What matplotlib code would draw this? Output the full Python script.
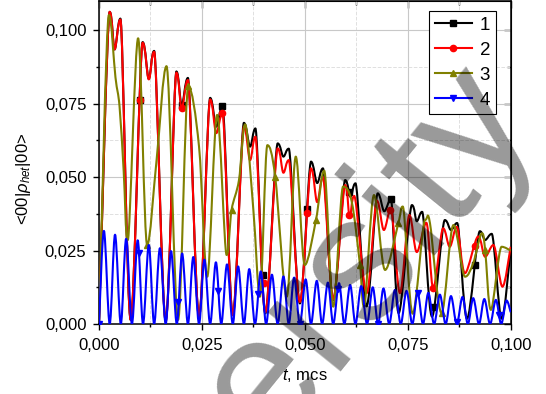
import numpy as np
import matplotlib
matplotlib.use("Agg")
import matplotlib.pyplot as plt
from matplotlib.lines import Line2D
from matplotlib.path import Path
from matplotlib.patches import PathPatch
from matplotlib.ticker import MultipleLocator, FuncFormatter

plt.rcParams['font.family'] = ['Liberation Sans', 'DejaVu Sans']
plt.rcParams['mathtext.fontset'] = 'custom'
plt.rcParams['mathtext.rm'] = 'Liberation Sans'
plt.rcParams['mathtext.it'] = 'Liberation Sans:italic'

# curve 1 (black)
t_black = [0.0, 0.0026, 0.0038, 0.0052, 0.0077, 0.0106, 0.0121, 0.0134, 0.0162, 0.0188,
           0.0201, 0.0216, 0.0243, 0.0270, 0.0285, 0.0300, 0.0325, 0.0352, 0.0367, 0.0380,
           0.0404, 0.0434, 0.0448, 0.0461, 0.0488, 0.0515, 0.0530, 0.0544, 0.0569, 0.0598,
           0.0611, 0.0623, 0.0650, 0.0677, 0.0693, 0.0709, 0.0728, 0.0760, 0.0772, 0.0785,
           0.0809, 0.0840, 0.0855, 0.0870, 0.0894, 0.0925, 0.0938, 0.0954, 0.0978, 0.1000]
y_black = [0.0, 0.1063, 0.0935, 0.1040, 0.0014, 0.0960, 0.0835, 0.0930, 0.0010, 0.0860,
           0.0745, 0.0838, 0.0025, 0.0770, 0.0672, 0.0742, 0.0030, 0.0685, 0.0604, 0.0666,
           0.0036, 0.0615, 0.0570, 0.0597, 0.0070, 0.0553, 0.0480, 0.0530, 0.0082, 0.0490,
           0.0433, 0.0479, 0.0060, 0.0445, 0.0384, 0.0425, 0.0037, 0.0405, 0.0350, 0.0382,
           0.0025, 0.0354, 0.0320, 0.0344, 0.0018, 0.0316, 0.0286, 0.0307, 0.0018, 0.0255]
mark_black = [0.0100, 0.0201, 0.0300, 0.0399, 0.0506, 0.0607, 0.0709, 0.0812, 0.0913]

# curve 2 (red)
t_red = [0.0, 0.0026, 0.0038, 0.0052, 0.0077, 0.0106, 0.0121, 0.0134, 0.0162, 0.0188,
         0.0201, 0.0216, 0.0243, 0.0270, 0.0285, 0.0300, 0.0325, 0.0352, 0.0367, 0.0380,
         0.0404, 0.0434, 0.0448, 0.0461, 0.0488, 0.0515, 0.0530, 0.0544, 0.0569, 0.0598,
         0.0609, 0.0620, 0.0650, 0.0675, 0.0692, 0.0709, 0.0731, 0.0754, 0.0772, 0.0795,
         0.0812, 0.0836, 0.0852, 0.0869, 0.0889, 0.0921, 0.0938, 0.0958, 0.0980, 0.1000]
y_red = [0.0, 0.1063, 0.0935, 0.1037, 0.0014, 0.0958, 0.0833, 0.0927, 0.0010, 0.0856,
         0.0734, 0.0831, 0.0025, 0.0765, 0.0650, 0.0717, 0.0030, 0.0672, 0.0558, 0.0638,
         0.0040, 0.0598, 0.0515, 0.0558, 0.0075, 0.0530, 0.0415, 0.0500, 0.0085, 0.0473,
         0.0362, 0.0436, 0.0105, 0.0420, 0.0320, 0.0392, 0.0105, 0.0371, 0.0245, 0.0345,
         0.0122, 0.0326, 0.0263, 0.0331, 0.0173, 0.0298, 0.0229, 0.0269, 0.0127, 0.0263]
mark_red = [0.0100, 0.0201, 0.0300, 0.0400, 0.0506, 0.0608, 0.0708, 0.0812, 0.0913]

# curve 3 (olive)
t_olive = [0.0, 0.0024, 0.0040, 0.0050, 0.0060, 0.0070, 0.0095, 0.0117, 0.0140, 0.0164,
           0.0192, 0.0217, 0.0243, 0.0263, 0.0287, 0.0310, 0.0322, 0.0340, 0.0355, 0.0375,
           0.0391, 0.0409, 0.0428, 0.0456, 0.0478, 0.0500, 0.0527, 0.0547, 0.0569, 0.0593,
           0.0614, 0.0634, 0.0644, 0.0668, 0.0695, 0.0727, 0.0738, 0.0762, 0.0792, 0.0804,
           0.0832, 0.0861, 0.0889, 0.0909, 0.0930, 0.0938, 0.0952, 0.0978, 0.1000]
y_olive = [0.0, 0.1052, 0.0840, 0.0740, 0.0520, 0.0286, 0.0973, 0.0269, 0.0560, 0.0878,
           0.0014, 0.0810, 0.0604, 0.0161, 0.0712, 0.0235, 0.0388, 0.0490, 0.0680, 0.0388,
           0.0093, 0.0609, 0.0502, 0.0093, 0.0570, 0.0201, 0.0354, 0.0522, 0.0059, 0.0468,
           0.0416, 0.0201, 0.0059, 0.0439, 0.0184, 0.0343, 0.0400, 0.0035, 0.0354, 0.0343,
           0.0037, 0.0337, 0.0161, 0.0207, 0.0309, 0.0252, 0.0048, 0.0263, 0.0250]
mark_olive = [0.0117, 0.0217, 0.0322, 0.0428, 0.0527, 0.0634, 0.0727, 0.0832, 0.0938]

# curve 4 (blue)
t_blue = [0.0000, 0.0012, 0.0026, 0.0039, 0.0053, 0.0066, 0.0080, 0.0094, 0.0107, 0.0121,
          0.0134, 0.0148, 0.0162, 0.0175, 0.0189, 0.0202, 0.0216, 0.0229, 0.0243, 0.0256,
          0.0270, 0.0284, 0.0297, 0.0311, 0.0325, 0.0338, 0.0352, 0.0365, 0.0379, 0.0393,
          0.0406, 0.0420, 0.0434, 0.0448, 0.0461, 0.0474, 0.0488, 0.0502, 0.0515, 0.0529,
          0.0542, 0.0556, 0.0569, 0.0583, 0.0596, 0.0610, 0.0623, 0.0637, 0.0651, 0.0665,
          0.0678, 0.0691, 0.0705, 0.0719, 0.0733, 0.0747, 0.0761, 0.0774, 0.0787, 0.0800,
          0.0814, 0.0828, 0.0842, 0.0855, 0.0869, 0.0883, 0.0896, 0.0909, 0.0923, 0.0936,
          0.0950, 0.0964, 0.0977, 0.0990, 0.1000]
y_blue = [0.0, 0.0317, 0.0, 0.0304, 0.0, 0.0290, 0.0, 0.0285, 0.0, 0.0269,
          0.0, 0.0258, 0.0, 0.0248, 0.0, 0.0240, 0.0, 0.0228, 0.0, 0.0219,
          0.0, 0.0210, 0.0, 0.0203, 0.0, 0.0196, 0.0, 0.0187, 0.0, 0.0179,
          0.0, 0.0168, 0.0, 0.0162, 0.0, 0.0158, 0.0, 0.0152, 0.0, 0.0147,
          0.0, 0.0141, 0.0, 0.0139, 0.0, 0.0133, 0.0, 0.0129, 0.0, 0.0125,
          0.0, 0.0121, 0.0, 0.0116, 0.0, 0.0113, 0.0, 0.0107, 0.0, 0.0106,
          0.0, 0.0100, 0.0, 0.0095, 0.0, 0.0092, 0.0, 0.0088, 0.0, 0.0085,
          0.0, 0.0082, 0.0, 0.0080, 0.004]
mark_blue = [0.0, 0.0096, 0.0193, 0.0290, 0.0387, 0.0488, 0.0581, 0.0678, 0.0774, 0.0870, 0.0972]

labels = ['1', '2', '3', '4']


def spline_path(t, y):
    # smooth connection through the read points (like Origin's spline line),
    # flat tangents at the local peaks/dips so nothing overshoots
    p = np.column_stack([t, y])
    n = len(p)
    tan = np.zeros_like(p)
    for i in range(n):
        a = p[max(i - 1, 0)]
        b = p[min(i + 1, n - 1)]
        tan[i] = (b - a) / 6
        if 0 < i < n - 1 and (p[i, 1] - a[1]) * (p[i, 1] - b[1]) >= 0:
            tan[i, 1] = 0
    verts = [p[0]]
    codes = [Path.MOVETO]
    for i in range(n - 1):
        verts += [p[i] + tan[i], p[i + 1] - tan[i + 1], p[i + 1]]
        codes += [Path.CURVE4] * 3
    return Path(verts, codes)


fig = plt.figure(figsize=(5.46, 3.94), dpi=100)
ax = fig.add_axes([0.1813, 0.1777, 0.754, 0.8198])

series = [(t_black, y_black, mark_black, 'black', 's'),
          (t_red, y_red, mark_red, '#ff0000', 'o'),
          (t_olive, y_olive, mark_olive, '#808000', '^'),
          (t_blue, y_blue, mark_blue, '#0000ff', 'v')]

handles = []
for t, y, mt, c, m in series:
    ax.add_patch(PathPatch(spline_path(t, y), fill=False, edgecolor=c, lw=1.5,
                           joinstyle='round', zorder=3))
    ax.plot(mt, np.interp(mt, t, y), ls='none', marker=m, color=c, ms=4.5, zorder=3)
    handles.append(Line2D([], [], color=c, lw=1.5, marker=m, ms=4.5))

ax.set_xlim(0, 0.1)
ax.set_ylim(0, 0.11)

fmt = FuncFormatter(lambda v, p: f'{v:.3f}'.replace('.', ','))
ax.xaxis.set_major_locator(MultipleLocator(0.025))
ax.xaxis.set_minor_locator(MultipleLocator(0.0125))
ax.yaxis.set_major_locator(MultipleLocator(0.025))
ax.yaxis.set_minor_locator(MultipleLocator(0.0125))
ax.xaxis.set_major_formatter(fmt)
ax.yaxis.set_major_formatter(fmt)

ax.grid(which='major', color='#c8c8c8', lw=0.8, ls='-', zorder=0)
ax.grid(which='minor', color='#e0e0e0', lw=0.7, ls='--', zorder=0)
ax.set_axisbelow(True)

ax.tick_params(which='both', direction='out', labelsize=12, width=1, color='black')
ax.tick_params(which='major', length=4)
ax.tick_params(which='minor', length=2.5)
ax.tick_params(axis='x', which='major', pad=6)
ax.tick_params(axis='y', which='major', pad=5)
for s in ax.spines.values():
    s.set_linewidth(1.1)

top = ax.secondary_xaxis('top')
top.xaxis.set_major_locator(MultipleLocator(0.025))
top.xaxis.set_minor_locator(MultipleLocator(0.0125))
top.tick_params(which='both', direction='in', labeltop=False, width=1)
top.tick_params(which='major', length=5)
top.tick_params(which='minor', length=3)
right = ax.secondary_yaxis('right')
right.yaxis.set_major_locator(MultipleLocator(0.025))
right.yaxis.set_minor_locator(MultipleLocator(0.0125))
right.tick_params(which='both', direction='in', labelright=False, width=1)
right.tick_params(which='major', length=5)
right.tick_params(which='minor', length=3)

ax.set_xlabel(r'$t$, mcs', fontsize=12, labelpad=10)
ax.set_ylabel(r'<00|$\rho_{het}$|00>', fontsize=12)
ax.yaxis.set_label_coords(-0.160, 0.45)

leg = ax.legend(handles, labels, loc='upper right', bbox_to_anchor=(0.964, 0.969),
                borderaxespad=0, fancybox=False, edgecolor='black', framealpha=1,
                fontsize=13.5, handlelength=2.0, labelspacing=0.42, handletextpad=0.4,
                borderpad=0.3)
leg.get_frame().set_linewidth(0.8)

# watermark
fig.text(0.528, -0.066, 'University', rotation=51, rotation_mode='anchor',
         ha='center', va='baseline', fontsize=129, color='black', alpha=0.4, zorder=5)

fig.savefig('out.png', dpi=100)
